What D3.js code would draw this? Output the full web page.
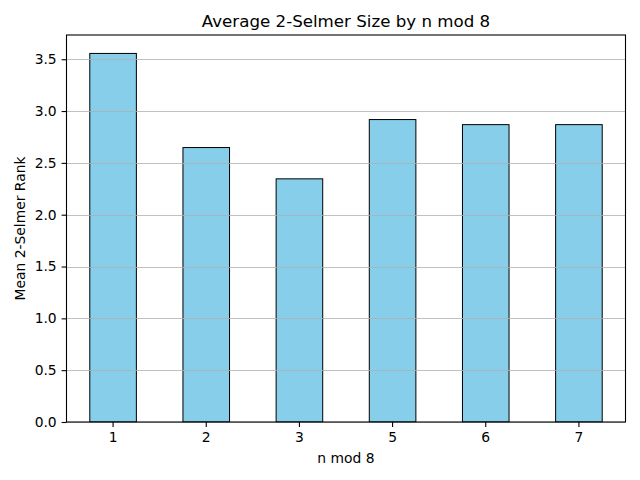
<!DOCTYPE html>
<html><head><meta charset="utf-8">
<script src="https://cdn.jsdelivr.net/npm/d3@7"></script>
<style>body{margin:0;background:#fff}svg{font-family:"DejaVu Sans",sans-serif}</style>
</head><body>
<script>
const categories = ["1","2","3","5","6","7"];
const values = [3.556, 2.648, 2.346, 2.918, 2.869, 2.869];
const yTicks = [0,0.5,1.0,1.5,2.0,2.5,3.0,3.5];

const W=640,H=480;
const m={l:66.5,r:14.5,t:35,b:58};
const svg=d3.select("body").append("svg").attr("width",W).attr("height",H);
const x=d3.scaleBand().domain(categories).range([m.l,W-m.r]).paddingInner(0.5).paddingOuter(0.25);
const ymax=d3.max(values)*1.05;
const y=d3.scaleLinear().domain([0,ymax]).range([H-m.b,m.t]);

svg.append("g").selectAll("rect").data(values).join("rect")
 .attr("x",(d,i)=>x(categories[i])).attr("width",x.bandwidth())
 .attr("y",d=>y(d)).attr("height",d=>y(0)-y(d))
 .attr("fill","#87ceeb").attr("stroke","#000").attr("stroke-width",1);

svg.append("g").selectAll("line").data(yTicks).join("line")
 .attr("x1",m.l).attr("x2",W-m.r).attr("y1",d=>Math.round(y(d))+0.5).attr("y2",d=>Math.round(y(d))+0.5)
 .attr("stroke","#b0b0b0").attr("stroke-width",0.8);

const ya=svg.append("g").attr("transform",`translate(${m.l},0)`)
 .call(d3.axisLeft(y).tickValues(yTicks).tickFormat(d3.format(".1f")).tickSize(4.9).tickPadding(4.9));
const xa=svg.append("g").attr("transform",`translate(0,${H-m.b})`)
 .call(d3.axisBottom(x).tickSize(4.9).tickPadding(4.9));
[ya,xa].forEach(a=>{a.select(".domain").remove();a.selectAll("text").attr("font-size",13.89).attr("fill","#000").attr("font-family","DejaVu Sans");a.selectAll("line").attr("stroke","#000").attr("stroke-width",1.1);});

svg.append("rect").attr("x",m.l).attr("y",m.t).attr("width",W-m.r-m.l).attr("height",H-m.b-m.t)
 .attr("fill","none").attr("stroke","#000").attr("stroke-width",1.1);

svg.append("text").attr("x",(m.l+W-m.r)/2).attr("y",27).attr("text-anchor","middle").attr("font-size",16.67).text("Average 2-Selmer Size by n mod 8");
svg.append("text").attr("x",(m.l+W-m.r)/2).attr("y",463).attr("text-anchor","middle").attr("font-size",13.89).text("n mod 8");
svg.append("text").attr("transform",`translate(25,${(m.t+H-m.b)/2}) rotate(-90)`).attr("text-anchor","middle").attr("font-size",13.89).text("Mean 2-Selmer Rank");
</script>
</body></html>
